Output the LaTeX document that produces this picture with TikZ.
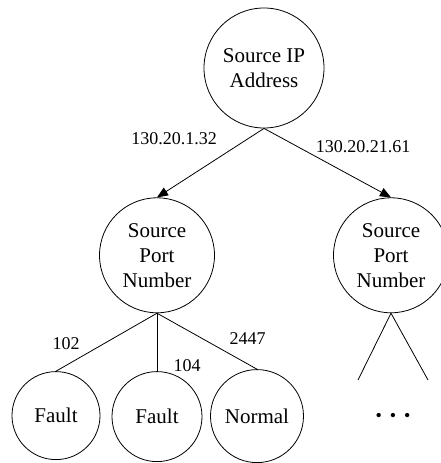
\documentclass[tikz,border=0pt]{standalone}
\usepackage{fontspec}
\setmainfont{Liberation Serif}
\usetikzlibrary{arrows.meta,positioning}
\tikzset{
%Define standard arrow tip
    >={Triangle[length=11pt,width=9pt]},
%Define style for circles
    kreis/.style={
           circle,
           draw=black, line width=0.8pt,
           inner sep=0pt,
           minimum size=115pt,
           align=center,
           font=\fontsize{21}{25}\selectfont},
    blatt/.style={
           kreis,
           minimum size=90pt},
% Define style for edge labels
    lbl/.style={
           font=\fontsize{18}{21}\selectfont},
% Define arrow style
    pil/.style={
           ->,
           line width=0.8pt},
    lin/.style={
           -,
           line width=0.8pt}
}
\begin{document}
\begin{tikzpicture}[x=1pt, y=-1pt]
 \useasboundingbox (0,0) rectangle (440,463);
 \node[kreis, minimum size=120pt] (ip) at (264,68) {Source IP\\Address};
 \node[kreis, below=69pt of ip, xshift=-107pt] (portL) {Source\\Port\\Number};
 \node[kreis, below=69pt of ip, xshift=127pt] (portR) {Source\\Port\\Number};
 \node[blatt, below=58pt of portL, xshift=-101pt, minimum size=88pt] (leafA) {Fault};
 \node[blatt, below=58pt of portL] (leafB) {Fault};
 \node[blatt, below=56pt of portL, xshift=100pt, minimum size=93pt] (leafC) {Normal};
 \coordinate (endL) at (358,380);
 \coordinate (endR) at (428,380);
 \node[font=\fontsize{18}{20}\selectfont] (dots) at (393,417) {\textbullet\hspace{8pt}\textbullet\hspace{8pt}\textbullet};
   \draw[pil] (ip.south) -- node[lbl, pos=0.145, left=28pt] {130.20.1.32} (portL.north);
   \draw[pil] (ip.south) -- node[lbl, pos=0.26, right=15pt] {130.20.21.61} (portR.north);
   \draw[lin] (portL.south) -- node[lbl, pos=0.53, left=20pt] {102} (leafA.north);
   \draw[lin] (portL.south) -- node[lbl, pos=0.91, right=13pt] {104} (leafB.north);
   \draw[lin] (portL.south) -- node[lbl, pos=0.45, right=24pt] {2447} (leafC.north);
   \draw[lin] (portR.south) -- (endL);
   \draw[lin] (portR.south) -- (endR);
\end{tikzpicture}
\end{document}
